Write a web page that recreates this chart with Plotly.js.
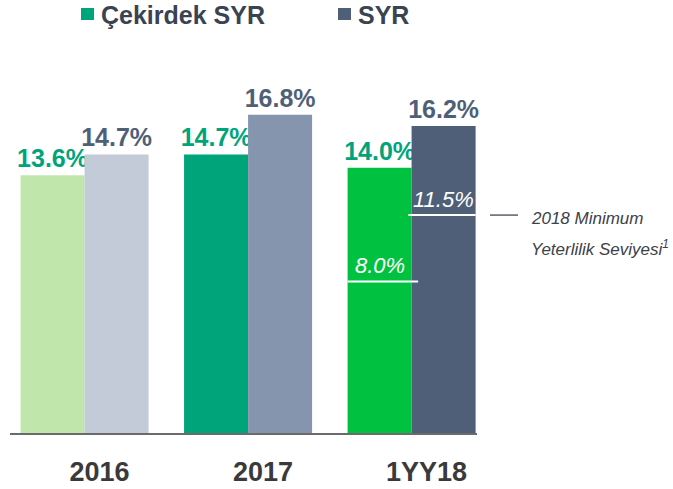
<!DOCTYPE html>
<html>
<head>
<meta charset="utf-8">
<script src="https://cdn.plot.ly/plotly-3.0.1.min.js"></script>
<style>html,body{margin:0;padding:0;background:#fff;}#chart{width:673px;height:489px;}</style>
</head>
<body>
<div id="chart"></div>
<script>
// ---- data ----
const categories = ["2016", "2017", "1YY18"];
const cekirdekSYR = [13.6, 14.7, 14.0];
const syr = [14.7, 16.8, 16.2];
const seriesNames = ["Çekirdek SYR", "SYR"];
const minCekirdek2018 = 8.0;
const minSYR2018 = 11.5;
const minNoteLines = ["2018 Minimum", "Yeterlilik Seviyesi<sup>1</sup>"];

// ---- styles ----
const cekColors = ["#c1e6ab", "#00a47a", "#00c240"];
const syrColors = ["#c3cad8", "#8595ad", "#4f5f78"];
const SANS = "'Liberation Sans', Arial, sans-serif";

const W = 673, H = 489;
const M = {l: 10, r: 196, t: 54, b: 56};
const pw = W - M.l - M.r, ph = H - M.t - M.b;
const px = v => (v - M.l) / pw;       // pixel x -> paper
const py = v => 1 - (v - M.t) / ph;   // pixel y -> paper

const bargap = 0.217;
const bw = (1 - bargap) / 2;
const lastIdx = categories.length - 1;

const fmt = v => v.toFixed(1) + "%";
const bold = s => "<b>" + s + "</b>";

const traces = [
  {
    type: "bar", name: seriesNames[0], x: categories, y: cekirdekSYR,
    marker: {color: cekColors, line: {width: 0}},
    text: cekirdekSYR.map(v => bold(fmt(v))), textposition: "outside", constraintext: "none",
    cliponaxis: false,
    textfont: {family: SANS, size: 25, color: "#00a47a"},
    hoverinfo: "skip"
  },
  {
    type: "bar", name: seriesNames[1], x: categories, y: syr,
    marker: {color: syrColors, line: {width: 0}},
    text: syr.map(v => bold(fmt(v))), textposition: "outside", constraintext: "none",
    cliponaxis: false,
    textfont: {family: SANS, size: 25, color: "#4f5f78"},
    hoverinfo: "skip"
  }
];

const shapes = [
  // minimum lines on 1YY18 bars
  {type: "line", xref: "x", yref: "y", x0: lastIdx - bw, x1: lastIdx + 0.04,
   y0: minCekirdek2018, y1: minCekirdek2018, line: {color: "#ffffff", width: 2}},
  {type: "line", xref: "x", yref: "y", x0: lastIdx - 0.02, x1: lastIdx + bw,
   y0: minSYR2018, y1: minSYR2018, line: {color: "#ffffff", width: 2}},
  // note dash
  {type: "line", xref: "paper", yref: "y", x0: px(490), x1: px(518),
   y0: minSYR2018, y1: minSYR2018, line: {color: "#5a5f66", width: 1.5}},
  // legend squares
  {type: "rect", xref: "paper", yref: "paper", x0: px(81), x1: px(94), y0: py(20), y1: py(8),
   fillcolor: "#00a47a", line: {width: 0}},
  {type: "rect", xref: "paper", yref: "paper", x0: px(338), x1: px(351), y0: py(20), y1: py(8),
   fillcolor: "#4f5f78", line: {width: 0}}
];

const annotations = [
  {xref: "x", yref: "y", x: lastIdx - bw / 2, y: minCekirdek2018, text: fmt(minCekirdek2018),
   showarrow: false, yanchor: "bottom", yshift: 1,
   font: {family: SANS, size: 22, color: "#ffffff", style: "italic"}},
  {xref: "x", yref: "y", x: lastIdx + bw / 2, y: minSYR2018, text: fmt(minSYR2018),
   showarrow: false, yanchor: "bottom", yshift: 1,
   font: {family: SANS, size: 22, color: "#ffffff", style: "italic"}},
  {xref: "paper", yref: "y", x: px(529), y: minSYR2018, yshift: -3, text: minNoteLines[0],
   showarrow: false, xanchor: "left", yanchor: "middle",
   font: {family: SANS, size: 17, color: "#3d4148", style: "italic"}},
  {xref: "paper", yref: "y", x: px(529), y: minSYR2018, yshift: -33, text: minNoteLines[1],
   showarrow: false, xanchor: "left", yanchor: "middle",
   font: {family: SANS, size: 17, color: "#3d4148", style: "italic"}},
  // legend text
  {xref: "paper", yref: "paper", x: px(99), y: py(15), text: bold(seriesNames[0]),
   showarrow: false, xanchor: "left", yanchor: "middle",
   font: {family: SANS, size: 25, color: "#3a4352"}},
  {xref: "paper", yref: "paper", x: px(356), y: py(15), text: bold(seriesNames[1]),
   showarrow: false, xanchor: "left", yanchor: "middle",
   font: {family: SANS, size: 25, color: "#3a4352"}}
];

const layout = {
  width: W, height: H,
  margin: M,
  paper_bgcolor: "#ffffff", plot_bgcolor: "#ffffff",
  barmode: "group", bargap: bargap, bargroupgap: 0,
  showlegend: false,
  xaxis: {
    type: "category", range: [-0.456, 2.40],
    showline: true, linecolor: "#6b6b6b", linewidth: 2,
    showgrid: false, zeroline: false, ticks: "",
    tickfont: {family: SANS, size: 27, color: "#3a3a3a", weight: "bold"},
    ticklabelshift: 15, ticklabelstandoff: 14,
    fixedrange: true
  },
  yaxis: {
    range: [0, 20], visible: false, showgrid: false, zeroline: false, fixedrange: true
  },
  shapes: shapes,
  annotations: annotations
};

Plotly.newPlot("chart", traces, layout, {displayModeBar: false, staticPlot: true});
</script>
</body>
</html>
